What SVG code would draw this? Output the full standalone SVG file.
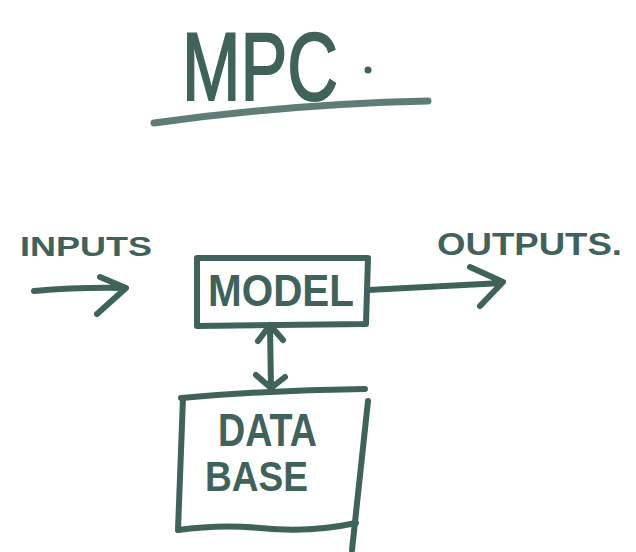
<svg xmlns="http://www.w3.org/2000/svg" width="636" height="552" viewBox="0 0 636 552">
<style>
.ink{fill:none;stroke:#3f625a;stroke-width:6;stroke-linecap:round;stroke-linejoin:round}
.txt{fill:#3f625a;font-family:"Liberation Sans",Arial,sans-serif;font-weight:bold}
</style>
<rect width="636" height="552" fill="#ffffff"/>
<g id="title">
<text x="182" y="100" font-size="96" fill="#3f625a" stroke="#3f625a" stroke-width="2" font-family="Liberation Sans, Arial, sans-serif" textLength="156" lengthAdjust="spacingAndGlyphs">MPC</text>
<circle cx="368" cy="70" r="3.5" fill="#3f625a"/>
<path d="M154,123 Q290,104 428,101" fill="none" stroke="#5f7d76" stroke-width="7" stroke-linecap="round"/>
</g>
<g id="inputs-label">
<text class="txt" x="20" y="256" font-size="27" textLength="132" lengthAdjust="spacingAndGlyphs">INPUTS</text>
</g>
<g id="outputs-label">
<text class="txt" x="437" y="255" font-size="32" textLength="185" lengthAdjust="spacingAndGlyphs">OUTPUTS.</text>
</g>
<g id="model">
<path class="ink" d="M197,258 L368,258 L366,324 L197,326 Z"/>
<text class="txt" x="208" y="306" font-size="44" textLength="146" lengthAdjust="spacingAndGlyphs">MODEL</text>
</g>
<g id="database">
<path class="ink" d="M181,398 Q270,390 365,389"/>
<path class="ink" d="M183,398 L178,530"/>
<path class="ink" d="M178,530 Q220,524 260,528 Q310,533 356,523"/>
<path class="ink" d="M368,401 L352,550"/>
<text class="txt" x="218" y="446" font-size="46" textLength="99" lengthAdjust="spacingAndGlyphs">DATA</text>
<text class="txt" x="205" y="491" font-size="42" textLength="103" lengthAdjust="spacingAndGlyphs">BASE</text>
</g>
<g id="connectors">
<path class="ink" d="M34,291 Q80,287 124,288 M100,277 L126,288 L97,314"/>
<path class="ink" d="M368,290 Q440,286 502,283 M470,267 L503,282 L480,306"/>
<path class="ink" d="M270,325 L271,388 M258,341 L270,325 L283,340 M256,375 L271,388 L285,377"/>
</g>
</svg>
